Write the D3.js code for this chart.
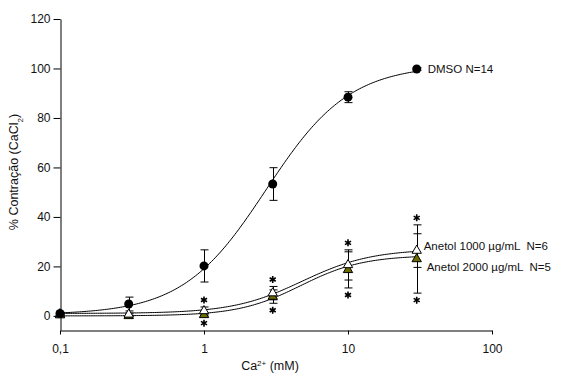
<!DOCTYPE html>
<html>
<head>
<meta charset="utf-8">
<script src="https://cdn.jsdelivr.net/npm/d3@7"></script>
<style>
  body { margin: 0; background: #fff; }
  svg text { font-family: "Liberation Sans", Arial, sans-serif; fill: #111; }
</style>
</head>
<body>
<svg id="chart" width="561" height="374"></svg>
<script>
// concentrations (mM)
const conc = [0.1, 0.3, 1, 3, 10, 30];

const dmso = [1.0, 4.8, 20.2, 53.3, 88.4, 99.8];
const dmsoErr = [0.5, 2.8, 6.5, 6.6, 2.2, 0.5];

const an1000 = [0.8, 0.6, 2.0, 9.2, 20.6, 26.4];
const an1000Err = [0.5, 0.5, 1.6, 2.7, 6.1, 6.8];

const an2000 = [0.3, 0.0, 0.4, 7.8, 18.6, 23.0];
const an2000Err = [0.3, 0.3, 0.5, 2.7, 7.3, 13.8];

// fitted Hill curves: bottom, top, EC50, slope
const dmsoFit = [0.5, 101.5, 2.7, 1.5];
const an1000Fit = [1.0, 27.0, 4.8, 1.8];
const an2000Fit = [0.0, 24.5, 4.7, 2.0];

// concentrations marked with *
const starConc = [1, 3, 10, 30];

const xTicks = [0.1, 1, 10, 100];
const yTicks = [0, 20, 40, 60, 80, 100, 120];

const svg = d3.select("#chart");
const x = d3.scaleLog().domain([0.1, 100]).range([60, 492]);
const y = d3.scaleLinear().domain([-5.7, 120]).range([330, 19]);

// axes
svg.append("g")
  .attr("transform", "translate(60.5,0)")
  .call(d3.axisLeft(y).tickValues(yTicks).tickSize(7).tickSizeOuter(0).tickPadding(3))
  .call(g => g.selectAll("text").style("font-size", "12px").attr("fill", "#111"));

svg.append("g")
  .attr("transform", "translate(0,330.5)")
  .call(d3.axisBottom(x).tickValues(xTicks).tickSize(4).tickSizeOuter(0).tickPadding(10)
    .tickFormat(d => String(d).replace(".", ",")))
  .call(g => g.selectAll("text").style("font-size", "12px").attr("fill", "#111"));

// axis titles
const yt = svg.append("text")
  .attr("transform", "translate(18,172) rotate(-90)")
  .attr("text-anchor", "middle")
  .style("font-size", "12.5px");
yt.append("tspan").text("% Contração (CaCl");
yt.append("tspan").text("2").attr("baseline-shift", "sub").style("font-size", "8px");
yt.append("tspan").text(")");

const xt = svg.append("text")
  .attr("x", 270).attr("y", 370)
  .attr("text-anchor", "middle")
  .style("font-size", "12.5px");
xt.append("tspan").text("Ca");
xt.append("tspan").text("2+").attr("baseline-shift", "super").style("font-size", "8px");
xt.append("tspan").text(" (mM)");

// curves
function hill(p, c) {
  return p[0] + (p[1] - p[0]) / (1 + Math.pow(p[2] / c, p[3]));
}
const curveX = d3.range(0, 201).map(i => Math.pow(10, -1 + i * Math.log10(300) / 200));
const line = d3.line().x(d => x(d[0])).y(d => y(d[1]));

[an2000Fit, an1000Fit, dmsoFit].forEach(p => {
  svg.append("path")
    .attr("d", line(curveX.map(c => [c, hill(p, c)])))
    .attr("fill", "none")
    .attr("stroke", "#000")
    .attr("stroke-width", 1);
});

// error bars
function errorBars(vals, errs) {
  const g = svg.append("g").attr("stroke", "#000").attr("stroke-width", 1);
  conc.forEach((c, i) => {
    const cx = Math.round(x(c)) + 0.5;
    const lo = y(vals[i] - errs[i]), hi = y(vals[i] + errs[i]);
    g.append("line").attr("x1", cx).attr("x2", cx).attr("y1", lo).attr("y2", hi);
    [lo, hi].forEach(v => g.append("line").attr("x1", cx - 4).attr("x2", cx + 4).attr("y1", v).attr("y2", v));
  });
}
errorBars(dmso, dmsoErr);
errorBars(an1000, an1000Err);
errorBars(an2000, an2000Err);

// markers
const tri = d3.symbol().type(d3.symbolTriangle).size(38);
svg.append("g").selectAll("path")
  .data(conc.map((c, i) => [c, an2000[i]]))
  .join("path")
  .attr("d", tri)
  .attr("transform", d => `translate(${x(d[0])},${y(d[1])})`)
  .attr("fill", "#6b6b00").attr("stroke", "#000").attr("stroke-width", 1);

svg.append("g").selectAll("path")
  .data(conc.map((c, i) => [c, an1000[i]]))
  .join("path")
  .attr("d", tri)
  .attr("transform", d => `translate(${x(d[0])},${y(d[1])})`)
  .attr("fill", "#fff").attr("stroke", "#000").attr("stroke-width", 1);

svg.append("g").selectAll("circle")
  .data(conc.map((c, i) => [c, dmso[i]]))
  .join("circle")
  .attr("cx", d => x(d[0])).attr("cy", d => y(d[1]))
  .attr("r", 4.5).attr("fill", "#000");

// asterisks
const star = d3.symbol().type(d3.symbolAsterisk).size(34);
starConc.forEach(c => {
  const i = conc.indexOf(c);
  const top = Math.max(an1000[i] + an1000Err[i], an2000[i] + an2000Err[i]);
  const bot = Math.min(an1000[i] - an1000Err[i], an2000[i] - an2000Err[i]);
  [y(top) - 7, y(bot) + 7].forEach(sy => {
    svg.append("path").attr("d", star)
      .attr("transform", `translate(${x(c)},${sy})`)
      .attr("fill", "none").attr("stroke", "#000").attr("stroke-width", 1.6);
  });
});

// series labels
const last = conc.length - 1;
svg.append("text").attr("x", x(conc[last]) + 11).attr("y", y(dmso[last]) + 4)
  .style("font-size", "11.5px").text("DMSO N=14");
svg.append("text").attr("x", x(conc[last]) + 7).attr("y", y(an1000[last]) - 1)
  .style("font-size", "11.5px").attr("xml:space", "preserve").text("Anetol 1000 \u00b5g/mL  N=6");
svg.append("text").attr("x", x(conc[last]) + 10).attr("y", y(an2000[last]) + 12)
  .style("font-size", "11.5px").attr("xml:space", "preserve").text("Anetol 2000 \u00b5g/mL  N=5");
</script>
</body>
</html>
